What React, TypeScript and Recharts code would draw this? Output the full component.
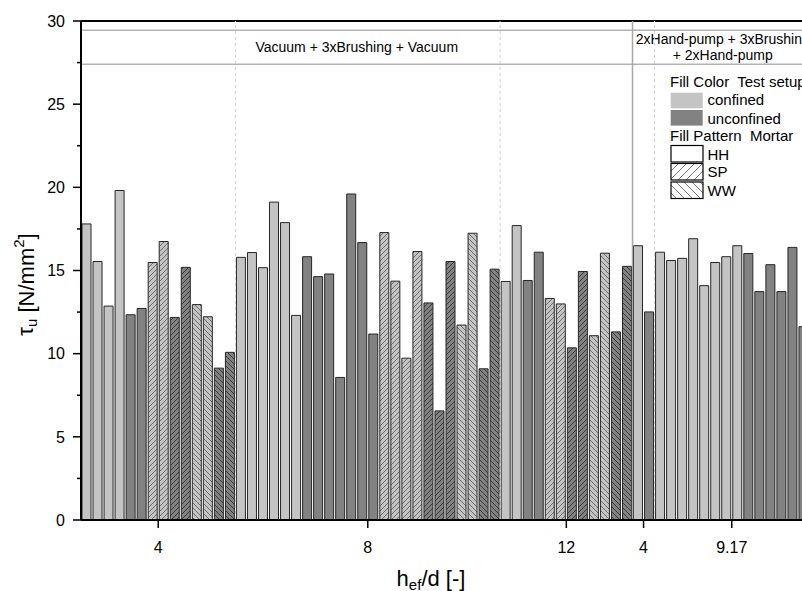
import React from 'react';
import { BarChart, Bar, XAxis, YAxis, Cell, ReferenceLine, ReferenceArea, Legend } from 'recharts';

// ---------- data ----------
const groupLabels = ['4', '8', '12', '4', '9.17'];
const groupSizes = [14, 24, 12, 2, 14];
const sectionLabels = [
  ['Vacuum + 3xBrushing + Vacuum'],
  ['2xHand-pump + 3xBrushing', '+ 2xHand-pump'],
];
const sectionGroupCounts = [3, 2];

const tauValues = [
  // h_ef/d = 4
  17.8, 15.54, 12.86, 19.81, 12.34, 12.72, 15.48, 16.74, 12.18, 15.19, 12.95, 12.22, 9.13, 10.08,
  // h_ef/d = 8
  15.79, 16.08, 15.17, 19.11, 17.88, 12.3, 15.83, 14.63, 14.79, 8.57, 19.6, 16.68, 11.18,
  17.28, 14.36, 9.73, 16.14, 13.05, 6.56, 15.54, 11.72, 17.24, 9.09, 15.08,
  // h_ef/d = 12
  14.34, 17.7, 14.4, 16.1, 13.32, 12.99, 10.35, 14.94, 11.08, 16.04, 11.31, 15.25,
  // h_ef/d = 4 (hand-pump)
  16.49, 12.51,
  // h_ef/d = 9.17
  16.1, 15.6, 15.73, 16.91, 14.09, 15.48, 15.83, 16.49, 16.02, 13.73, 15.35, 13.73, 16.39, 11.62,
];

const testSetup = [
  'C', 'C', 'C', 'C', 'U', 'U', 'C', 'C', 'U', 'U', 'C', 'C', 'U', 'U',
  'C', 'C', 'C', 'C', 'C', 'C', 'U', 'U', 'U', 'U', 'U', 'U', 'U',
  'C', 'C', 'C', 'C', 'U', 'U', 'U', 'C', 'C', 'U', 'U',
  'C', 'C', 'U', 'U', 'C', 'C', 'U', 'U', 'C', 'C', 'U', 'U',
  'C', 'U',
  'C', 'C', 'C', 'C', 'C', 'C', 'C', 'C', 'U', 'U', 'U', 'U', 'U', 'U',
];

const mortar = [
  'HH', 'HH', 'HH', 'HH', 'HH', 'HH', 'SP', 'SP', 'SP', 'SP', 'WW', 'WW', 'WW', 'WW',
  'HH', 'HH', 'HH', 'HH', 'HH', 'HH', 'HH', 'HH', 'HH', 'HH', 'HH', 'HH', 'HH',
  'SP', 'SP', 'SP', 'SP', 'SP', 'SP', 'SP', 'WW', 'WW', 'WW', 'WW',
  'HH', 'HH', 'HH', 'HH', 'SP', 'SP', 'SP', 'SP', 'WW', 'WW', 'WW', 'WW',
  'HH', 'HH',
  'HH', 'HH', 'HH', 'HH', 'HH', 'HH', 'HH', 'HH', 'HH', 'HH', 'HH', 'HH', 'HH', 'HH',
];

const yTicks = [0, 2.5, 5, 7.5, 10, 12.5, 15, 17.5, 20, 22.5, 25, 27.5, 30];

// ---------- derived ----------
const data = tauValues.map((tau, i) => ({ pos: i + 0.5, tau, setup: testSetup[i], mortar: mortar[i] }));
const totalBars = tauValues.length;

const groupStarts: number[] = [];
{
  let acc = 0;
  groupSizes.forEach((s) => { groupStarts.push(acc); acc += s; });
}
const groupTickPos = groupSizes.map((s, i) => groupStarts[i] + s / 2);
const tickLabelMap: Record<string, string> = {};
groupTickPos.forEach((p, i) => { tickLabelMap[String(p)] = groupLabels[i]; });

const sectionRanges: [number, number][] = [];
{
  let g = 0;
  sectionGroupCounts.forEach((c) => {
    const start = groupStarts[g];
    const endGroup = g + c - 1;
    const end = groupStarts[endGroup] + groupSizes[endGroup];
    sectionRanges.push([start, end]);
    g += c;
  });
}
const sectionBoundaries = sectionRanges.slice(1).map((r) => r[0]);
const groupBoundaries = groupStarts.slice(1).filter((b) => !sectionBoundaries.includes(b));

// ---------- styles ----------
const FONT = '"Liberation Sans", Arial, Helvetica, sans-serif';
const LIGHT = '#c4c4c4';
const DARK = '#828282';
const HATCH_LIGHT = '#555555';
const HATCH_DARK = '#262626';
const Y_TICK_SIZE = 8;
const Y_TICK_MARGIN = 8;
const LEG_FS = 15;

const fillFor = (setup: string, m: string) => {
  const tone = setup === 'C' ? 'light' : 'dark';
  if (m === 'HH') return setup === 'C' ? LIGHT : DARK;
  return `url(#${m.toLowerCase()}-${tone})`;
};

const Patterns = () => (
  <svg width={0} height={0} style={{ position: 'absolute' }}>
    <defs>
      {[['light', LIGHT, HATCH_LIGHT], ['dark', DARK, HATCH_DARK]].map(([tone, bg, ln]) => (
        <React.Fragment key={tone}>
          <pattern id={`sp-${tone}`} patternUnits="userSpaceOnUse" width={5} height={5}>
            <rect width={5} height={5} fill={bg} />
            <path d="M0,5 L5,0 M-1.25,1.25 L1.25,-1.25 M3.75,6.25 L6.25,3.75" stroke={ln} strokeWidth={0.8} />
          </pattern>
          <pattern id={`ww-${tone}`} patternUnits="userSpaceOnUse" width={5} height={5}>
            <rect width={5} height={5} fill={bg} />
            <path d="M0,0 L5,5 M-1.25,3.75 L1.25,6.25 M3.75,-1.25 L6.25,1.25" stroke={ln} strokeWidth={0.8} />
          </pattern>
        </React.Fragment>
      ))}
      <pattern id="sp-legend" patternUnits="userSpaceOnUse" width={8} height={8}>
        <rect width={8} height={8} fill="#fff" />
        <path d="M0,8 L8,0 M-2,2 L2,-2 M6,10 L10,6" stroke="#6a6a6a" strokeWidth={0.9} />
      </pattern>
      <pattern id="ww-legend" patternUnits="userSpaceOnUse" width={8} height={8}>
        <rect width={8} height={8} fill="#fff" />
        <path d="M0,0 L8,8 M-2,6 L2,10 M6,-2 L10,2" stroke="#6a6a6a" strokeWidth={0.9} />
      </pattern>
    </defs>
  </svg>
);

const YTick = (props: any) => {
  const { x, y, payload } = props;
  const v = payload.value as number;
  const axisX = x + Y_TICK_SIZE + Y_TICK_MARGIN;
  const major = v % 5 === 0;
  return (
    <g>
      <line x1={axisX - (major ? Y_TICK_SIZE : 4)} x2={axisX} y1={y} y2={y} stroke="#000" strokeWidth={1.5} />
      {major && (
        <text x={x} y={y} dy="0.355em" textAnchor="end" fontSize={16} fontFamily={FONT} fill="#000">
          {v}
        </text>
      )}
    </g>
  );
};

const HeaderLabel = (props: any) => {
  const { viewBox, lines } = props;
  const cx = viewBox.x + viewBox.width / 2 + (lines.length > 1 ? 2 : 0);
  const cy = viewBox.y + viewBox.height / 2;
  const lh = 16.5;
  const top = cy - ((lines.length - 1) * lh) / 2;
  return (
    <g>
      {lines.map((t: string, i: number) => (
        <text key={i} x={cx} y={top + i * lh} dy="0.35em" textAnchor="middle" fontSize={14} fontFamily={FONT} fill="#000">
          {t}
        </text>
      ))}
    </g>
  );
};

const XTitle = (props: any) => {
  const { viewBox } = props;
  const cx = viewBox.x + viewBox.width / 2 - 14;
  const y = viewBox.y + 66;
  return (
    <text x={cx} y={y} textAnchor="middle" fontSize={22} fontFamily={FONT} fill="#000">
      h<tspan fontSize={15} dy={4}>ef</tspan>
      <tspan dy={-4}>/d [-]</tspan>
    </text>
  );
};

const YTitle = (props: any) => {
  const { viewBox } = props;
  const cx = viewBox.x + 17.5;
  const cy = viewBox.y + viewBox.height / 2 + 14;
  return (
    <text
      x={cx}
      y={cy}
      transform={`rotate(-90 ${cx} ${cy})`}
      textAnchor="middle"
      dominantBaseline="central"
      fontSize={22}
      fontFamily={FONT}
      fill="#000"
    >
      τ<tspan fontSize={15} dy={5}>u</tspan>
      <tspan dy={-5}> [N/mm</tspan>
      <tspan fontSize={15} dy={-8}>2</tspan>
      <tspan dy={8}>]</tspan>
    </text>
  );
};

const LegendContent = () => (
  <svg width={150} height={134} style={{ fontFamily: FONT }}>
    <text x={2} y={17} fontSize={LEG_FS} fill="#000" style={{ whiteSpace: 'pre' }}>Fill Color  Test setup</text>
    <rect x={2.7} y={22.7} width={32} height={15.6} fill={LIGHT} />
    <text x={39.5} y={35.3} fontSize={LEG_FS} fill="#000">confined</text>
    <rect x={2.7} y={40} width={32} height={15.6} fill={DARK} />
    <text x={39.5} y={53.6} fontSize={LEG_FS} fill="#000">unconfined</text>
    <text x={2} y={71.3} fontSize={LEG_FS} fill="#000" style={{ whiteSpace: 'pre' }}>Fill Pattern  Mortar</text>
    <rect x={3} y={75.5} width={32} height={16.5} fill="#fff" stroke="#000" strokeWidth={1.2} />
    <text x={39.5} y={89.8} fontSize={LEG_FS} fill="#000">HH</text>
    <rect x={3} y={93.5} width={32} height={16.5} fill="url(#sp-legend)" stroke="#000" strokeWidth={1.2} />
    <text x={39.5} y={107} fontSize={LEG_FS} fill="#000">SP</text>
    <rect x={3} y={112} width={32} height={16.5} fill="url(#ww-legend)" stroke="#000" strokeWidth={1.2} />
    <text x={39.5} y={125.8} fontSize={LEG_FS} fill="#000">WW</text>
  </svg>
);

export default function App() {
  return (
    <div style={{ position: 'absolute', left: 0, top: 0, width: 802, height: 591, overflow: 'hidden', background: '#fff' }}>
      <Patterns />
      <div style={{ position: 'absolute', left: 8, top: 8 }}>
        <BarChart
          width={820}
          height={583}
          data={data}
          margin={{ top: 13, right: 19, bottom: 0, left: 0 }}
          barGap={0}
        >
          <ReferenceLine y={30} stroke="#000" strokeWidth={2} />
          <ReferenceLine y={29.45} stroke="#b4b4b4" strokeWidth={1.5} />
          <ReferenceLine y={27.4} stroke="#b4b4b4" strokeWidth={1.5} />
          {groupBoundaries.map((b) => (
            <ReferenceLine key={`g${b}`} x={b} stroke="#cfcfcf" strokeWidth={1} strokeDasharray="3 3" />
          ))}
          {sectionBoundaries.map((b) => (
            <ReferenceLine key={`s${b}`} x={b} stroke="#a8a8a8" strokeWidth={1.5} />
          ))}
          {sectionRanges.map((r, i) => (
            <ReferenceArea
              key={`a${i}`}
              x1={r[0]}
              x2={r[1]}
              y1={27.4}
              y2={29.45}
              fill="none"
              stroke="none"
              fillOpacity={0}
              label={<HeaderLabel lines={sectionLabels[i]} />}
            />
          ))}
          <XAxis
            type="number"
            dataKey="pos"
            domain={[0, totalBars]}
            ticks={groupTickPos}
            interval={0}
            allowDataOverflow
            tickFormatter={(v: number) => tickLabelMap[String(v)] ?? ''}
            height={71}
            tickSize={8}
            tickMargin={14}
            axisLine={{ stroke: '#000', strokeWidth: 2 }}
            tickLine={{ stroke: '#000', strokeWidth: 1.5 }}
            tick={{ fill: '#000', fontSize: 16, fontFamily: FONT }}
            label={<XTitle />}
          />
          <YAxis
            type="number"
            domain={[0, 30]}
            ticks={yTicks}
            interval={0}
            width={73}
            tickSize={Y_TICK_SIZE}
            tickMargin={Y_TICK_MARGIN}
            tickLine={false}
            axisLine={{ stroke: '#000', strokeWidth: 2 }}
            tick={<YTick />}
            label={<YTitle />}
          />
          <Legend
            layout="vertical"
            align="center"
            verticalAlign="middle"
            content={<LegendContent />}
            wrapperStyle={{ left: 660, top: 62, width: 150, height: 134 }}
          />
          <Bar dataKey="tau" barSize={9} isAnimationActive={false}>
            {data.map((d, i) => (
              <Cell key={i} fill={fillFor(d.setup, d.mortar)} stroke="#262626" strokeWidth={1} />
            ))}
          </Bar>
        </BarChart>
      </div>
    </div>
  );
}
